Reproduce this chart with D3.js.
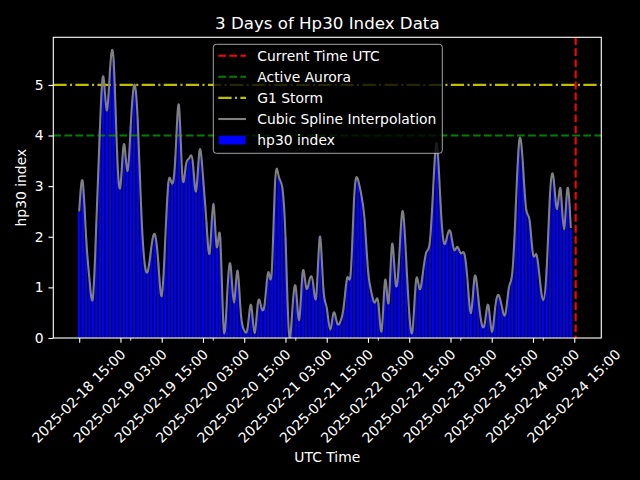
<!DOCTYPE html>
<html>
<head>
<meta charset="utf-8">
<script src="https://cdn.jsdelivr.net/npm/d3@7"></script>
<style>
  html, body { margin: 0; padding: 0; background: #000; }
  svg { display: block; font-family: 'DejaVu Sans', sans-serif; }
</style>
</head>
<body>
<div class="chart"></div>
<script>
// Data
const startTime = '2025-02-18 15:00'   // first hourly bar
const hp30Values = [
  2.5, 3.1, 2.0, 1.15, 0.8, 2.3, 4.1, 5.17, 4.5, 5.33,
  5.5, 3.7, 3.0, 3.83, 3.3, 4.2, 5.0, 4.33, 2.6, 1.5,
  1.33, 1.8, 2.05, 1.5, 0.83, 1.9, 3.1, 3.05, 3.6, 4.6,
  3.2, 3.4, 3.55, 3.5, 2.9, 3.7, 3.2, 2.3, 1.7, 2.65,
  1.8, 2.0, 0.2, 0.8, 1.45, 0.7, 1.33, 0.5, 0.15, 0.2,
  0.65, 0.1, 0.7, 0.6, 0.7, 1.3, 1.3, 3.1, 3.2, 3.0,
  2.0, 0.1, 0.55, 1.0, 0.36, 1.3, 1.0, 1.15, 1.1, 0.85,
  2.0, 1.0, 0.6, 0.17, 0.5, 0.3, 0.33, 0.65, 1.2, 1.3,
  2.8, 3.15, 2.85, 2.35, 1.35, 0.9, 0.7, 0.7, 0.15, 1.15,
  0.7, 1.85, 1.1, 1.5, 2.5, 1.7, 0.5, 0.17, 1.15, 0.97,
  1.3, 1.7, 1.9, 3.0, 3.85, 2.8, 1.9, 2.0, 2.1, 1.75,
  1.8, 1.67, 1.67, 1.1, 0.5, 1.2, 0.85, 0.3, 0.3, 0.65,
  0.13, 0.6, 0.85, 0.6, 0.48, 1.0, 1.3, 2.6, 3.9, 3.5,
  2.55, 2.33, 1.65, 1.65, 1.15, 0.75, 1.4, 2.9, 3.15, 2.55,
  2.95, 2.15, 2.95, 2.17
]
const currentTimeUTC = '2025-02-24 15:25'
const auroraLevel = 4
const stormLevel = 5

const xTickLabels = [
  '2025-02-18 15:00', '2025-02-19 03:00', '2025-02-19 15:00', '2025-02-20 03:00',
  '2025-02-20 15:00', '2025-02-21 03:00', '2025-02-21 15:00', '2025-02-22 03:00',
  '2025-02-22 15:00', '2025-02-23 03:00', '2025-02-23 15:00', '2025-02-24 03:00',
  '2025-02-24 15:00'
]
const xMinorTicks = [
  '2025-02-19 06:00', '2025-02-20 06:00', '2025-02-21 06:00',
  '2025-02-22 06:00', '2025-02-23 06:00', '2025-02-24 06:00'
]
const yTicks = [0, 1, 2, 3, 4, 5]
const legendLabels = ['Current Time UTC', 'Active Aurora', 'G1 Storm', 'Cubic Spline Interpolation', 'hp30 index']

const _parse = d3.utcParse('%Y-%m-%d %H:%M')
const _t0 = _parse(startTime)
const _data = hp30Values.map((v, i) => ({ t: d3.utcHour.offset(_t0, i), v: v }))

// Dimensions
const dim = {
  width: 640, height: 480,
  left: 53.3, right: 601.3, top: 37.3, bottom: 338
}
const pt = 100 / 72   // matplotlib points -> px

// Scales
const _xScale = d3.scaleUtc()
  .domain([d3.utcMinute.offset(_t0, -452), d3.utcMinute.offset(_t0, 9112)])
  .range([dim.left, dim.right])

const _yScale = d3.scaleLinear()
  .domain([0, 5.94])
  .range([dim.bottom, dim.top])

const svg = d3.select('.chart')
  .append('svg')
  .attr('width', dim.width)
  .attr('height', dim.height)
  .style('background', '#000')

svg.append('defs').append('clipPath').attr('id', 'plotClip')
  .append('rect')
  .attr('x', dim.left).attr('y', dim.top)
  .attr('width', dim.right - dim.left).attr('height', dim.bottom - dim.top)

const plot = svg.append('g').attr('clip-path', 'url(#plotClip)')

// bars
plot.append('g').selectAll('rect')
  .data(_data)
  .join('rect')
  .attr('x', d => _xScale(d3.utcMinute.offset(d.t, -30)))
  .attr('width', d => _xScale(d3.utcMinute.offset(d.t, 30)) - _xScale(d3.utcMinute.offset(d.t, -30)))
  .attr('y', d => _yScale(d.v))
  .attr('height', d => _yScale(0) - _yScale(d.v))
  .attr('fill', '#0000ff')
  .attr('stroke', '#000')
  .attr('stroke-width', 0.8)

// reference lines
const _tNow = _parse(currentTimeUTC)
plot.append('line')
  .attr('x1', _xScale(_tNow)).attr('x2', _xScale(_tNow))
  .attr('y1', dim.top).attr('y2', dim.bottom)
  .attr('stroke', '#ff0000').attr('stroke-width', 1.5 * pt)
  .attr('stroke-dasharray', `${5.55 * pt},${2.4 * pt}`)

plot.append('line')
  .attr('x1', dim.left).attr('x2', dim.right)
  .attr('y1', _yScale(auroraLevel)).attr('y2', _yScale(auroraLevel))
  .attr('stroke', '#008000').attr('stroke-width', 1.5 * pt)
  .attr('stroke-dasharray', `${5.55 * pt},${2.4 * pt}`)

plot.append('line')
  .attr('x1', dim.left).attr('x2', dim.right)
  .attr('y1', _yScale(stormLevel)).attr('y2', _yScale(stormLevel))
  .attr('stroke', '#bfbf00').attr('stroke-width', 1.5 * pt)
  .attr('stroke-dasharray', `${9.6 * pt},${2.4 * pt},${1.5 * pt},${2.4 * pt}`)

// spline
const lineGen = d3.line()
  .x(d => _xScale(d.t))
  .y(d => _yScale(d.v))
  .curve(d3.curveNatural)

plot.append('path')
  .datum(_data)
  .attr('d', lineGen)
  .attr('fill', 'none')
  .attr('stroke', '#808080')
  .attr('stroke-width', 1.5 * pt)

// x axis
const xAxisGroup = svg.append('g')
  .attr('transform', `translate(0,${dim.bottom})`)
  .call(d3.axisBottom(_xScale)
    .tickValues(xTickLabels.map(_parse))
    .tickFormat(d3.utcFormat('%Y-%m-%d %H:%M'))
    .tickSize(3.5 * pt)
    .tickSizeOuter(0))

xAxisGroup.select('.domain').remove()
xAxisGroup.selectAll('line').attr('stroke', '#fff').attr('stroke-width', 0.8 * pt)
xAxisGroup.selectAll('text')
  .attr('y', null).attr('dy', null)
  .attr('fill', '#fff')
  .attr('font-size', 10 * pt)
  .attr('font-family', 'DejaVu Sans')
  .attr('text-anchor', 'middle')
  .attr('dominant-baseline', 'central')
  .attr('transform', 'translate(-1,58) rotate(-45)')

svg.append('g').selectAll('line')
  .data(xMinorTicks.map(_parse))
  .join('line')
  .attr('x1', d => _xScale(d)).attr('x2', d => _xScale(d))
  .attr('y1', dim.bottom).attr('y2', dim.bottom + 2 * pt)
  .attr('stroke', '#fff').attr('stroke-width', 0.6 * pt)

// y axis
const yAxisGroup = svg.append('g')
  .attr('transform', `translate(${dim.left},0)`)
  .call(d3.axisLeft(_yScale)
    .tickValues(yTicks)
    .tickFormat(d3.format('d'))
    .tickSize(3.5 * pt)
    .tickPadding(3.5 * pt)
    .tickSizeOuter(0))

yAxisGroup.select('.domain').remove()
yAxisGroup.selectAll('line').attr('stroke', '#fff').attr('stroke-width', 0.8 * pt)
yAxisGroup.selectAll('text')
  .attr('fill', '#fff')
  .attr('font-size', 10 * pt)
  .attr('font-family', 'DejaVu Sans')

// spines
svg.append('rect')
  .attr('x', dim.left).attr('y', dim.top)
  .attr('width', dim.right - dim.left).attr('height', dim.bottom - dim.top)
  .attr('fill', 'none')
  .attr('stroke', '#fff')
  .attr('stroke-width', 0.8 * pt)

// labels
const xMid = (dim.left + dim.right) / 2
svg.append('text')
  .text('3 Days of Hp30 Index Data')
  .attr('x', xMid).attr('y', 23)
  .attr('text-anchor', 'middle').attr('dominant-baseline', 'central')
  .attr('fill', '#fff').attr('font-size', 12 * pt)

svg.append('text')
  .text('UTC Time')
  .attr('x', xMid).attr('y', 457)
  .attr('text-anchor', 'middle').attr('dominant-baseline', 'central')
  .attr('fill', '#fff').attr('font-size', 10 * pt)

svg.append('text')
  .text('hp30 index')
  .attr('transform', `translate(21,${(dim.top + dim.bottom) / 2}) rotate(-90)`)
  .attr('text-anchor', 'middle').attr('dominant-baseline', 'central')
  .attr('fill', '#fff').attr('font-size', 10 * pt)

// legend
const legend = svg.append('g').attr('transform', 'translate(213.3,44.3)')
legend.append('rect')
  .attr('width', 229).attr('height', 109)
  .attr('rx', 3).attr('ry', 3)
  .attr('fill', 'rgba(0,0,0,0.8)')
  .attr('stroke', 'rgba(204,204,204,0.8)')
  .attr('stroke-width', 1)

const legendStyles = [
  { type: 'line', color: '#ff0000', dash: `${5.55 * pt},${2.4 * pt}` },
  { type: 'line', color: '#008000', dash: `${5.55 * pt},${2.4 * pt}` },
  { type: 'line', color: '#bfbf00', dash: `${9.6 * pt},${2.4 * pt},${1.5 * pt},${2.4 * pt}` },
  { type: 'line', color: '#808080', dash: null },
  { type: 'patch', color: '#0000ff', dash: null }
]

const rows = legend.selectAll('g.row')
  .data(legendLabels)
  .join('g')
  .classed('row', true)
  .attr('transform', (d, i) => `translate(0,${11.4 + i * 21.1})`)

rows.each(function (d, i) {
  const g = d3.select(this)
  const st = legendStyles[i]
  if (st.type === 'line') {
    g.append('line')
      .attr('x1', 5).attr('x2', 32.7)
      .attr('stroke', st.color).attr('stroke-width', 1.5 * pt)
      .attr('stroke-dasharray', st.dash)
  } else {
    g.append('rect')
      .attr('x', 5).attr('y', -4.9)
      .attr('width', 27.7).attr('height', 9.7)
      .attr('fill', st.color)
      .attr('stroke', '#000').attr('stroke-width', 0.8)
  }
  g.append('text')
    .text(d)
    .attr('x', 44)
    .attr('dominant-baseline', 'central')
    .attr('fill', '#fff')
    .attr('font-size', 10 * pt)
})
</script>
</body>
</html>
